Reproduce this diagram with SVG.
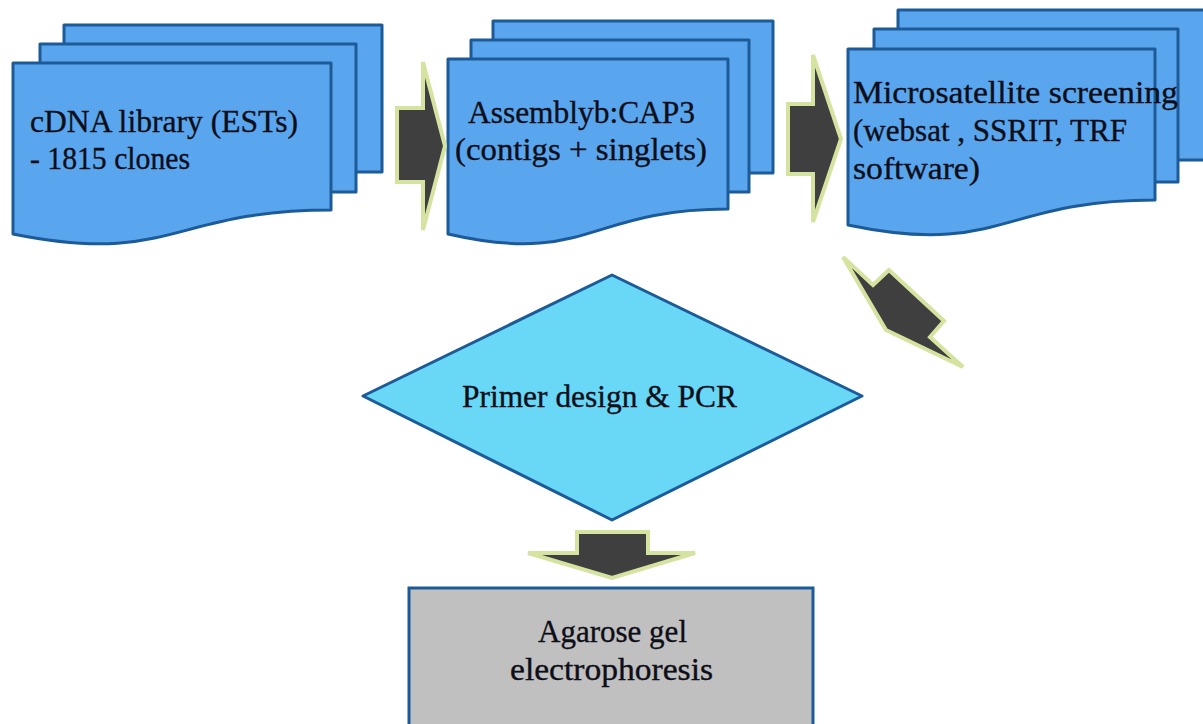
<svg xmlns="http://www.w3.org/2000/svg" width="1203" height="724" viewBox="0 0 1203 724">
<style>
.pg{fill:#5aa6ee;stroke:#1c5a98;stroke-width:3;stroke-linejoin:round}
.dia{fill:#69d7f6;stroke:#1c5a98;stroke-width:3;stroke-linejoin:round}
.box{fill:#c0c0c0;stroke:#1c5a98;stroke-width:3}
.arr{fill:#3f3f3f;stroke:#d5e3a0;stroke-width:4;stroke-linejoin:miter}
.t{font-family:"Liberation Serif","Times New Roman",serif;font-size:31px;fill:#0e0e18;stroke:#0e0e18;stroke-width:0.35}
</style>
<rect width="1203" height="724" fill="#ffffff"/>
<g id="node-cdna">
<rect class="pg" x="64" y="25" width="318" height="147"/>
<rect class="pg" x="40" y="44" width="316" height="148"/>
<path class="pg" d="M13,63 H331 V210 C172,210 172,266 13,234 Z"/>
<text class="t" x="30" y="132" textLength="268" lengthAdjust="spacingAndGlyphs">cDNA library (ESTs)</text>
<text class="t" x="30" y="169" textLength="160" lengthAdjust="spacingAndGlyphs">- 1815 clones</text>
</g>
<g id="node-assembly">
<rect class="pg" x="493" y="21" width="280" height="152"/>
<rect class="pg" x="471" y="40" width="278" height="152"/>
<path class="pg" d="M448,59 H728 V209 C588,209 588,266 448,234 Z"/>
<text class="t" x="468" y="123" textLength="227" lengthAdjust="spacingAndGlyphs">Assemblyb:CAP3</text>
<text class="t" x="455" y="160" textLength="252" lengthAdjust="spacingAndGlyphs">(contigs + singlets)</text>
</g>
<g id="node-microsatellite">
<rect class="pg" x="898" y="10" width="320" height="150"/>
<rect class="pg" x="874" y="29" width="304" height="153"/>
<path class="pg" d="M848,49 H1155 V200 C1001,200 1001,257 848,225 Z"/>
<text class="t" x="853" y="103" textLength="325" lengthAdjust="spacingAndGlyphs">Microsatellite screening</text>
<text class="t" x="853" y="141" textLength="274" lengthAdjust="spacingAndGlyphs">(websat , SSRIT, TRF</text>
<text class="t" x="853" y="179" textLength="127" lengthAdjust="spacingAndGlyphs">software)</text>
</g>
<g id="node-primer">
<polygon class="dia" points="612,275 862,396 612,520 363,396"/>
<text class="t" x="462" y="407" textLength="275" lengthAdjust="spacingAndGlyphs">Primer design &amp; PCR</text>
</g>
<g id="node-agarose">
<rect class="box" x="409" y="588" width="404" height="150"/>
<text class="t" x="538" y="642" textLength="149" lengthAdjust="spacingAndGlyphs">Agarose gel</text>
<text class="t" x="510" y="680" textLength="203" lengthAdjust="spacingAndGlyphs">electrophoresis</text>
</g>
<g id="connectors">
<polygon class="arr" points="397,108 423,108 423,62 445,146 423,230 423,182 397,182"/>
<polygon class="arr" points="788,104 813,104 813,55 841,139 813,222 813,174 788,174"/>
<polygon class="arr" points="843,257 873,285 889,270 944,321 930,337 963,367 886,330"/>
<polygon class="arr" points="577,532 648,532 648,553 695,553 612,578 528,553 577,553"/>
</g>
</svg>
